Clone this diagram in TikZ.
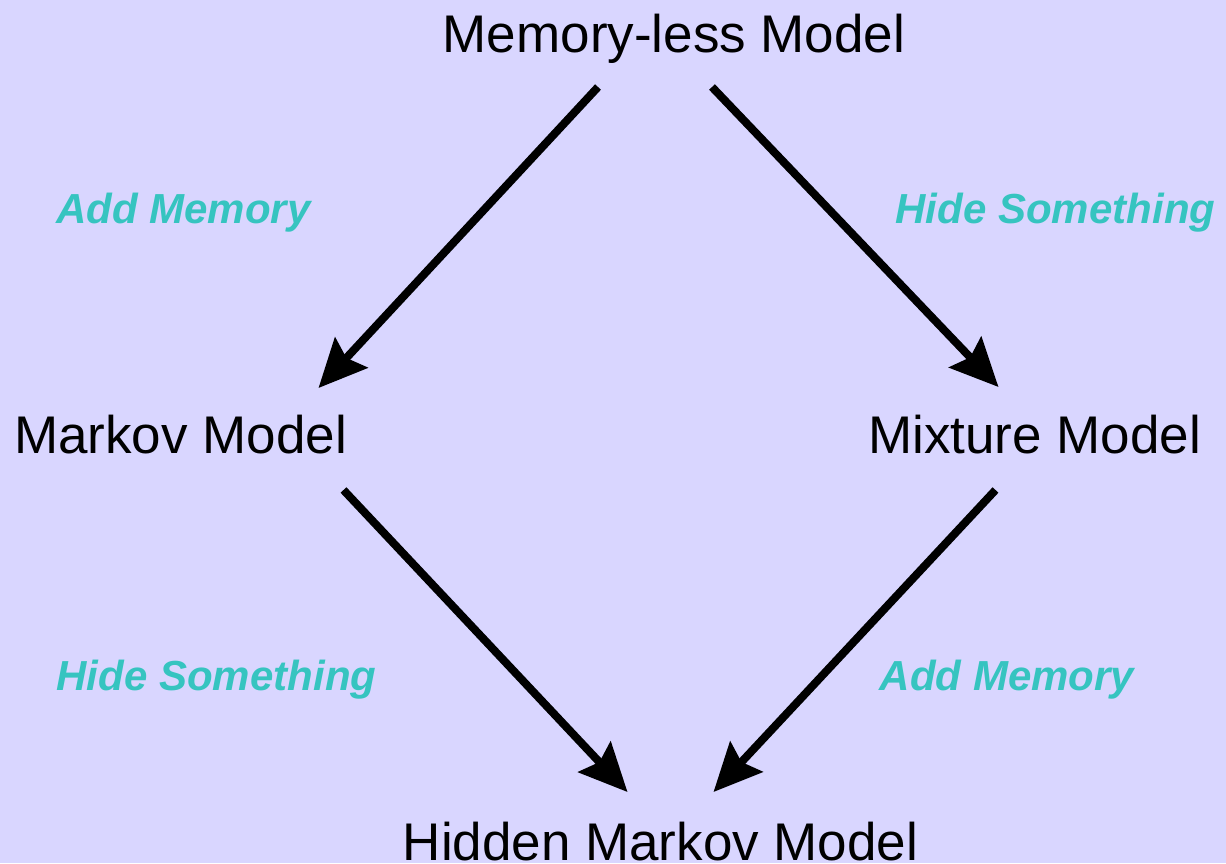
\documentclass[tikz,border=0pt]{standalone}
\usepackage{fontspec}
\setmainfont{Liberation Sans}
\usetikzlibrary{arrows.meta}
\definecolor{bgviolet}{RGB}{217,214,255}
\definecolor{labelteal}{RGB}{54,196,192}
\tikzset{
  model/.style={anchor=base, inner sep=0pt, font=\fontsize{53}{60}\selectfont, text=black},
  steplabel/.style={anchor=base, inner sep=0pt, font=\fontsize{42}{48}\selectfont\bfseries\itshape, text=labelteal},
  arr/.style={line width=8pt, draw=black, -{Stealth[length=48pt, width=44pt, inset=7pt]}}
}
\begin{document}
\begin{tikzpicture}[x=1pt, y=-1pt]
  \fill[bgviolet] (0,0) rectangle (1226,863);
  \useasboundingbox (0,0) rectangle (1226,863);

  % models
  \node[model] (mem) at (674,52) {Memory-less Model};
  \node[model] (markov) at (180.5,453) {Markov Model};
  \node[model] (mixture) at (1034.5,453) {Mixture Model};
  \node[model] (hmm) at (660.5,860) {Hidden Markov Model};

  % transitions
  \draw[arr] ([shift={(-76,35)}]mem.base) -- ([shift={(138,-65)}]markov.base);
  \draw[arr] ([shift={(38,35)}]mem.base) -- ([shift={(-36,-66)}]mixture.base);
  \draw[arr] ([shift={(163,37)}]markov.base) -- ([shift={(-33,-68)}]hmm.base);
  \draw[arr] ([shift={(-39,37)}]mixture.base) -- ([shift={(53,-68)}]hmm.base);

  % transition labels
  \node[steplabel] (l1) at (183.5,223) {Add Memory};
  \node[steplabel] (l2) at (1055.5,223) {Hide Something};
  \node[steplabel] (l3) at (216.5,690) {Hide Something};
  \node[steplabel] (l4) at (1007,690) {Add Memory};
\end{tikzpicture}
\end{document}
